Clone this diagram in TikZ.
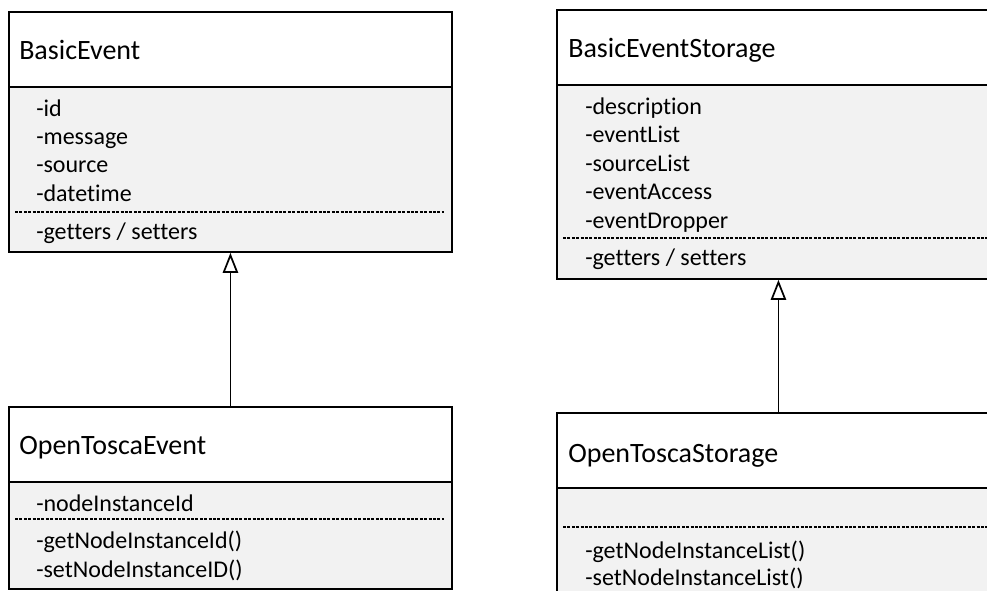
\documentclass[tikz,border=0pt]{standalone}
\usepackage{fontspec}
\setmainfont{Carlito}[Ligatures=NoCommon]
\usetikzlibrary{arrows.meta}
\definecolor{classgray}{HTML}{F2F2F2}

\begin{document}
\begin{tikzpicture}[x=0.75pt, y=-0.75pt,
    head/.style={draw, line width=1.4pt, fill=white, anchor=north west, inner sep=0, minimum width=332.25pt, minimum height=56.25pt},
    body/.style={draw, line width=1.4pt, fill=classgray, anchor=north west, inner sep=0, minimum width=332.25pt},
    classname/.style={anchor=base west, inner sep=0, font=\fontsize{21pt}{24pt}\selectfont},
    member/.style={anchor=base west, inner sep=0, font=\fontsize{18pt}{21pt}\selectfont},
    sepline/.style={line width=0.9pt, dash pattern=on 2.2pt off 1.1pt},
    inherit/.style={line width=1.3pt, -{Triangle[open, length=15pt, width=11.5pt]}}]
    \clip (0,0) rectangle (987,590);

    % BasicEvent
    \node[head] (be-head) at (8,11) {};
    \node[body, minimum height=123.75pt] (be-body) at (8,86) {};
    \node[classname] (be-name) at (19,59) {BasicEvent};
    \foreach \m [count=\i] in {-id, -message, -source, -datetime}
        { \node[member] (be-attr\i) at (36,{116+28.4*(\i-1)}) {\m}; }
    \draw[sepline] (15,212) -- (444,212);
    \node[member] (be-op1) at (36,239) {-getters / setters};

    % BasicEventStorage
    \node[head] (bes-head) at (556,9) {};
    \node[body, minimum height=145.5pt] (bes-body) at (556,84) {};
    \node[classname] (bes-name) at (568,57) {BasicEventStorage};
    \foreach \m [count=\i] in {-description, -eventList, -sourceList, -eventAccess, -eventDropper}
        { \node[member] (bes-attr\i) at (585,{114+28.6*(\i-1)}) {\m}; }
    \draw[sepline] (563,238) -- (1000,238);
    \node[member] (bes-op1) at (585,265) {-getters / setters};

    % OpenToscaEvent
    \node[head] (ote-head) at (8,406) {};
    \node[body, minimum height=80.25pt] (ote-body) at (8,481) {};
    \node[classname] (ote-name) at (19,454) {OpenToscaEvent};
    \node[member] (ote-attr1) at (36,511) {-nodeInstanceId};
    \draw[sepline] (15,519) -- (444,519);
    \node[member] (ote-op1) at (36,548) {-getNodeInstanceId()};
    \node[member] (ote-op2) at (36,577) {-setNodeInstanceID()};

    % OpenToscaStorage
    \node[head] (ots-head) at (556,412) {};
    \node[body, minimum height=100pt] (ots-body) at (556,487) {};
    \node[classname] (ots-name) at (568,462) {OpenToscaStorage};
    \draw[sepline] (563,527) -- (1000,527);
    \node[member] (ots-op1) at (585,558) {-getNodeInstanceList()};
    \node[member] (ots-op2) at (585,585) {-setNodeInstanceList()};

    % inheritance
    \draw[inherit] (ote-head.north) -- (be-body.south);
    \draw[inherit] (ots-head.north) -- (bes-body.south);
\end{tikzpicture}
\end{document}
